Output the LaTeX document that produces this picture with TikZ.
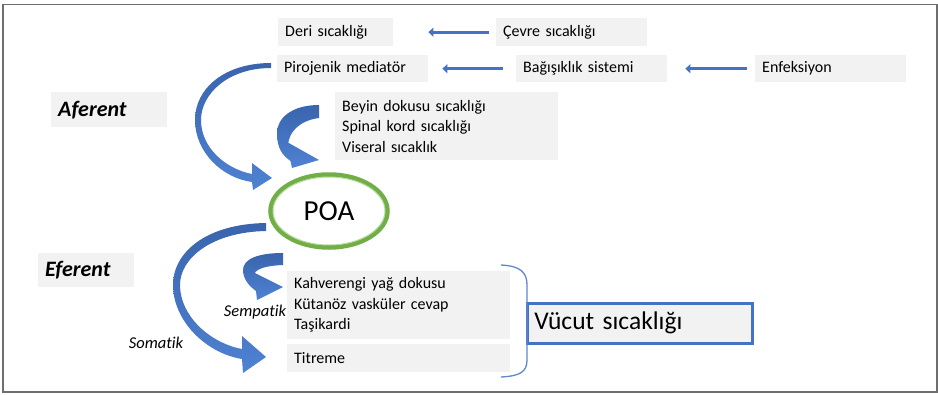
\documentclass[tikz,border=0pt]{standalone}
\usepackage{fontspec}
\setmainfont{Carlito}[Ligatures=NoCommon]
\usetikzlibrary{arrows.meta,shapes.geometric}
\definecolor{boxgray}{HTML}{F2F2F2}
\definecolor{lineblue}{HTML}{4472C4}
\definecolor{darkblue}{HTML}{3A64AD}
\definecolor{lightblue}{HTML}{4E82D2}
\definecolor{poagreen}{HTML}{72AE48}
\definecolor{poalight}{HTML}{B5DA9A}
\definecolor{framegray}{HTML}{6E6E6E}
\begin{document}
\begin{tikzpicture}[x=1pt,y=-1pt,
  gbox/.style={fill=boxgray, anchor=north west, inner xsep=7pt, inner ysep=0pt,
    align=left, font=\fontsize{16}{20.5}\selectfont},
  sidelabel/.style={fill=boxgray, anchor=north west, inner xsep=7pt, inner ysep=0pt,
    align=left, font=\fontsize{22}{26}\selectfont\bfseries\itshape},
  pathlabel/.style={font=\fontsize{16.5}{20}\selectfont\itshape},
  harrow/.style={draw=lineblue, line width=3pt, -{Triangle[length=5pt,width=9pt]}},
  blockarrow/.style={top color=darkblue, bottom color=lightblue}
]
\useasboundingbox (0,0) rectangle (938,394);
\draw[framegray, line width=1.2pt] (3,4.5) rectangle (937,392);

% boxes
\node[gbox, text width=101pt, minimum height=28pt] (deri) at (278,18) {Deri sıcaklığı};
\node[gbox, text width=137pt, minimum height=28pt] (cevre) at (496,18) {Çevre sıcaklığı};
\node[gbox, text width=137pt, minimum height=27pt] (piro) at (277,55) {Pirojenik mediatör};
\node[gbox, text width=137pt, minimum height=27pt] (bag) at (516,55) {Bağışıklık sistemi};
\node[gbox, text width=137pt, minimum height=27pt] (enf) at (755,55) {Enfeksiyon};
\node[gbox, text width=209pt, minimum height=68pt] (beyin) at (335,92)
  {Beyin dokusu sıcaklığı\\Spinal kord sıcaklığı\\Viseral sıcaklık};
\node[sidelabel, text width=102pt, minimum height=35pt] (aferent) at (51,92) {Aferent};
\node[sidelabel, text width=82pt, minimum height=34pt] (eferent) at (38,253) {Eferent};
\node[gbox, text width=209pt, minimum height=68pt] (kahve) at (287,271)
  {Kahverengi yağ dokusu\\Kütanöz vasküler cevap\\Taşikardi};
\node[gbox, text width=209pt, minimum height=28pt] (titreme) at (287,344) {Titreme};
\node[gbox, draw=lineblue, line width=2.5pt, text width=211pt, minimum height=40pt,
  font=\fontsize{25.5}{30}\selectfont] (vucut) at (526,302) {Vücut sıcaklığı};

% POA
\node[ellipse, draw=poagreen, line width=4.5pt, fill=white, minimum width=117pt,
  minimum height=73pt, font=\fontsize{29}{34}\selectfont] (poa) at (329,211) {POA};
\draw[poalight, line width=1pt] (poa.center) ellipse [x radius=56pt, y radius=34pt];

% labels
\node[pathlabel] (semp) at (255,312) {Sempatik};
\node[pathlabel] (soma) at (156,343) {Somatik};

% straight arrows
\draw[harrow, shorten <=7pt, shorten >=35pt] (cevre.west) -- (deri.east);
\draw[harrow, shorten <=13pt, shorten >=14pt] (bag.west) -- (piro.east);
\draw[harrow, shorten <=8pt, shorten >=18pt] (enf.west) -- (bag.east);

% curved block arrows
\shade[blockarrow] (271,63) .. controls (225,63) and (195,88) .. (195,120)
  .. controls (195,152) and (222,178) .. (252,182) -- (253,190) -- (272,178)
  -- (252,163) -- (252,174) .. controls (226,169) and (201,148) .. (201,120)
  .. controls (201,94) and (228,68) .. (271,68) -- cycle;
\shade[blockarrow] (319,105) .. controls (292,105) and (277,118) .. (277,133)
  .. controls (277,148) and (282,155) .. (290.5,161) -- (292,168) -- (319,160)
  -- (287,142) -- (288.5,149) .. controls (286,138) and (295,121) .. (319,118) -- cycle;
\shade[blockarrow] (266,223) .. controls (205,224) and (173,253) .. (173,285)
  .. controls (173,320) and (205,353) .. (242,359) -- (243,373) -- (266,357)
  -- (242,336) -- (242,349) .. controls (210,343) and (180,316) .. (180,285)
  .. controls (180,258) and (212,232) .. (266,231) -- cycle;
\shade[blockarrow] (283,253) .. controls (258,253) and (243,259) .. (243,270)
  .. controls (243,279) and (249,286) .. (256,291) -- (257,300) -- (283,287)
  -- (253,272) -- (254,279) .. controls (252,272) and (258,266) .. (283,265) -- cycle;

% brace
\draw[lineblue!85, line width=1.3pt] (501,265) .. controls (520,266) and (527,272) .. (527,285)
  -- (527,360) .. controls (527,372) and (520,376) .. (501,377);
\end{tikzpicture}
\end{document}
